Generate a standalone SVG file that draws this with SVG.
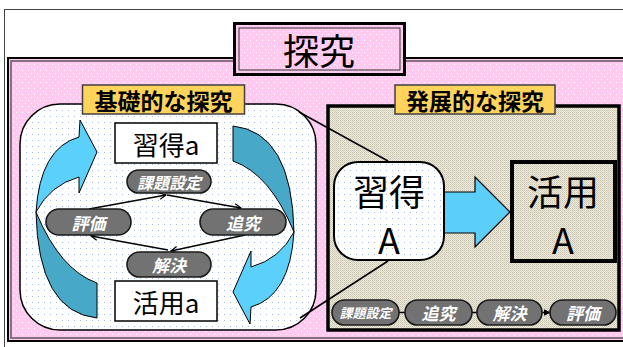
<svg xmlns="http://www.w3.org/2000/svg" xmlns:xlink="http://www.w3.org/1999/xlink" width="623" height="347" viewBox="0 0 623 347">
<defs>
<style>
.jp{font-family:"Noto Sans CJK JP","Noto Sans CJK SC",sans-serif;}
.lbl{font-weight:bold;font-size:23px;fill:#000;text-anchor:middle;dominant-baseline:central;}
.big{font-size:26px;fill:#000;text-anchor:middle;dominant-baseline:central;}
.huge{font-size:36px;fill:#000;text-anchor:middle;dominant-baseline:central;}
.pill{fill:#727272;stroke:#1a1a1a;stroke-width:1.6;}
.ptxt{font-weight:bold;font-style:italic;fill:#fff;text-anchor:middle;dominant-baseline:central;}
.conn{stroke:#000;stroke-width:1.5;fill:none;}
.ylw{fill:#ffd35c;stroke:#404040;stroke-width:1.5;}
.wbox{fill:#fff;stroke:#000;stroke-width:1.5;}
.cl{fill:#5bd0fa;stroke:#000;stroke-width:1;}
.cd{fill:#48a8c8;stroke:#000;stroke-width:1;}
</style>
<pattern id="pinkDots" width="6" height="6" patternUnits="userSpaceOnUse"><rect width="6" height="6" fill="#ffc9f0"/><rect x="1" y="1" width="1" height="1" fill="#fff"/><rect x="4" y="4" width="1" height="1" fill="#fff"/></pattern>
<pattern id="blueDots" width="6" height="6" patternUnits="userSpaceOnUse"><rect width="6" height="6" fill="#fff"/><rect x="2" y="2" width="1" height="1" fill="#9fbbe8"/></pattern>
<pattern id="beige" width="2" height="2" patternUnits="userSpaceOnUse"><rect width="2" height="2" fill="#eeebdd"/><rect x="0" y="0" width="1" height="1" fill="#c8c3ae"/><rect x="1" y="1" width="1" height="1" fill="#d6d2c0"/></pattern>
<marker id="ah" viewBox="0 0 10 10" refX="9" refY="5" markerWidth="8" markerHeight="8" markerUnits="userSpaceOnUse" orient="auto"><path d="M1,1 L9,5 L1,9" fill="none" stroke="#000" stroke-width="1.6"/></marker>
<marker id="tri" viewBox="0 0 10 10" refX="9" refY="5" markerWidth="7" markerHeight="8" markerUnits="userSpaceOnUse" orient="auto"><path d="M0,0 L10,5 L0,10 Z" fill="#000"/></marker>
<g id="curvedArrow">
<path class="cd" d="M36,212 Q38,312 97,318 L97,283 Q60,270 36,212 Z"/>
<path class="cl" d="M80,120 L97,152 L79,193 L79,177 Q50,185 36,212 Q40,148 79,137 Z"/>
</g>
</defs>

<!-- outer frame -->
<rect x="4.5" y="9.5" width="640" height="340" fill="#fff" stroke="#444" stroke-width="1"/>

<!-- pink panel -->
<g id="panel">
<rect x="8" y="58" width="640" height="283" fill="url(#pinkDots)" stroke="#000" stroke-width="2"/>
<rect x="11" y="61" width="640" height="277" fill="none" stroke="#86707f" stroke-width="2"/>
</g>

<!-- title -->
<g id="title">
<rect x="234.5" y="23.5" width="170" height="51" fill="url(#pinkDots)" stroke="#000" stroke-width="3"/>
<rect x="239" y="28" width="161" height="42" fill="none" stroke="#333" stroke-width="1"/>
<text class="jp huge" x="319" y="49">探究</text>
</g>

<!-- containers -->
<g id="basic-box">
<rect x="20" y="104" width="296" height="226" rx="40" ry="40" fill="url(#blueDots)" stroke="#000" stroke-width="1.5"/>
</g>
<g id="advanced-box">
<rect x="328" y="106" width="291" height="224" fill="url(#beige)" stroke="#000" stroke-width="3.5"/>
</g>

<!-- labels -->
<g id="label-basic">
<rect class="ylw" x="82.5" y="85" width="162" height="29"/>
<text class="jp lbl" x="163.5" y="100">基礎的な探究</text>
</g>
<g id="label-advanced">
<rect class="ylw" x="395" y="85" width="160" height="29"/>
<text class="jp lbl" x="475" y="100">発展的な探究</text>
</g>

<!-- curved cycle arrows -->
<g id="cycle-left"><use xlink:href="#curvedArrow" href="#curvedArrow"/></g>
<g id="cycle-right"><use xlink:href="#curvedArrow" href="#curvedArrow" transform="rotate(180 165 222)"/></g>

<!-- connectors -->
<g id="connectors">
<line class="conn" x1="89" y1="209" x2="166" y2="195" marker-end="url(#ah)"/>
<line class="conn" x1="167" y1="195" x2="241" y2="208" marker-end="url(#ah)"/>
<line class="conn" x1="245" y1="235" x2="171" y2="251" marker-end="url(#ah)"/>
<line class="conn" x1="168" y1="250" x2="91" y2="236" marker-end="url(#ah)"/>
<line class="conn" x1="299" y1="112" x2="388" y2="161"/>
<line class="conn" x1="300" y1="318" x2="388" y2="261"/>
<line class="conn" x1="399" y1="312.5" x2="405" y2="312.5"/>
<line class="conn" x1="472" y1="312.5" x2="477" y2="312.5"/>
<line class="conn" x1="542" y1="312.5" x2="550" y2="312.5" marker-end="url(#tri)"/>
</g>

<!-- big arrow -->
<g id="arrow-big">
<path d="M444,192 L475,192 L475,177 L510,212 L475,247 L475,233 L444,233 Z" fill="#5bcff7" stroke="#000" stroke-width="1.2"/>
</g>

<!-- basic nodes -->
<g id="shutoku-a">
<rect class="wbox" x="115" y="123" width="102" height="40"/>
<text class="jp big" x="166" y="143">習得a</text>
</g>
<g id="katsuyo-a">
<rect class="wbox" x="115" y="281" width="102" height="40"/>
<text class="jp big" x="166" y="301">活用a</text>
</g>
<g id="kadai">
<rect class="pill" x="127" y="170" width="84" height="23" rx="11.5"/>
<text class="jp ptxt" x="169" y="181.5" font-size="16">課題設定</text>
</g>
<g id="hyoka">
<rect class="pill" x="46" y="209" width="85" height="26" rx="13"/>
<text class="jp ptxt" x="88.5" y="222" font-size="17">評価</text>
</g>
<g id="tsuikyu">
<rect class="pill" x="200" y="209" width="86" height="26" rx="13"/>
<text class="jp ptxt" x="243" y="222" font-size="17">追究</text>
</g>
<g id="kaiketsu">
<rect class="pill" x="127" y="252" width="84" height="25" rx="12.5"/>
<text class="jp ptxt" x="169" y="264.5" font-size="17">解決</text>
</g>

<!-- advanced nodes -->
<g id="shutoku-A">
<rect x="334" y="162" width="110" height="98" rx="24" fill="url(#blueDots)" stroke="#000" stroke-width="2"/>
<text class="jp huge" x="389" y="190">習得</text>
<text class="jp huge" x="389" y="238">A</text>
</g>
<g id="katsuyo-A">
<rect x="512" y="162" width="103" height="99" fill="none" stroke="#000" stroke-width="4"/>
<text class="jp huge" x="563" y="190">活用</text>
<text class="jp huge" x="563" y="238">A</text>
</g>
<g id="p-kadai">
<rect class="pill" x="332" y="300" width="67" height="25" rx="12.5"/>
<text class="jp ptxt" x="365.5" y="312.5" font-size="13">課題設定</text>
</g>
<g id="p-tsuikyu">
<rect class="pill" x="405" y="300" width="67" height="25" rx="12.5"/>
<text class="jp ptxt" x="438.5" y="312.5" font-size="17">追究</text>
</g>
<g id="p-kaiketsu">
<rect class="pill" x="477" y="300" width="65" height="25" rx="12.5"/>
<text class="jp ptxt" x="509.5" y="312.5" font-size="17">解決</text>
</g>
<g id="p-hyoka">
<rect class="pill" x="550" y="300" width="66" height="25" rx="12.5"/>
<text class="jp ptxt" x="583" y="312.5" font-size="17">評価</text>
</g>
</svg>
